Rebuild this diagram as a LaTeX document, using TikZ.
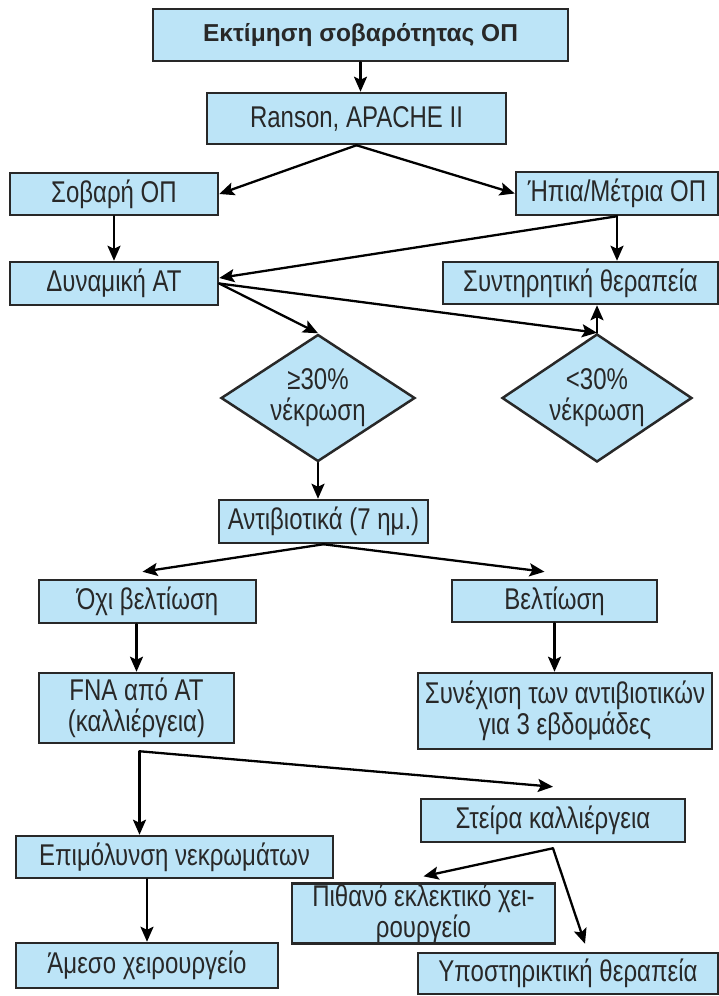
\documentclass[tikz,border=0pt]{standalone}
\usepackage{fontspec}
\setmainfont[FakeStretch=0.8]{Liberation Sans}
\newfontfamily\headfont{Liberation Sans}
\usetikzlibrary{shapes.geometric,arrows.meta,calc}
\definecolor{boxblue}{RGB}{188,228,247}
\definecolor{ink}{RGB}{40,40,40}

\begin{document}
\begin{tikzpicture}[x=1pt,y=-1pt,
  box/.style={draw=ink,fill=boxblue,line width=2.5pt,inner sep=0pt,align=center,text=ink,font=\fontsize{30}{31}\selectfont},
  dia/.style={box,shape=diamond},
  lbl/.style={align=center,text=ink,font=\fontsize{30}{31}\selectfont},
  arr/.style={-{Stealth[length=15pt,width=13pt,inset=3pt]},line width=2.3pt,line cap=round}]
  \useasboundingbox (0,0) rectangle (719,996);
  %top
  \node[box,minimum width=415,minimum height=52,font=\headfont\bfseries\fontsize{24.5}{28}\selectfont] (top) at (360.5,35) {Εκτίμηση σοβαρότητας ΟΠ};
  \node[box,minimum width=299,minimum height=51] (ranson) at (356.5,118.5) {Ranson, APACHE II};
  \node[box,minimum width=208,minimum height=42] (sov) at (114,194) {Σοβαρή ΟΠ};
  \node[box,minimum width=202,minimum height=43] (ipia) at (617,193.5) {Ήπια/Μέτρια ΟΠ};
  \node[box,minimum width=208,minimum height=43] (dyn) at (114,283.5) {Δυναμική ΑΤ};
  \node[box,minimum width=275,minimum height=42] (synt) at (580.5,283) {Συντηρητική θεραπεία};
  %necrosis
  \node[dia,minimum width=194,minimum height=127,label={[lbl]center:{≥30\%\\νέκρωση}}] (d1) at (318,398) {};
  \node[dia,minimum width=190,minimum height=128,label={[lbl]center:{<30\%\\νέκρωση}}] (d2) at (597,398) {};
  \node[box,minimum width=209,minimum height=43] (anti) at (323.5,521.5) {Αντιβιοτικά (7 ημ.)};
  %antibiotics
  \node[box,minimum width=217,minimum height=43] (ochi) at (147.5,601.5) {Όχι βελτίωση};
  \node[box,minimum width=205,minimum height=42] (velt) at (554.5,601) {Βελτίωση};
  \node[box,minimum width=195,minimum height=70] (fna) at (136.5,708) {FNA από ΑΤ\\(καλλιέργεια)};
  \node[box,minimum width=294,minimum height=76] (synex) at (565,711) {Συνέχιση των αντιβιοτικών\\για 3 εβδομάδες};
  %culture
  \node[box,minimum width=264,minimum height=43] (steira) at (553,820.5) {Στείρα καλλιέργεια};
  \node[box,minimum width=317,minimum height=42] (epim) at (174.5,857) {Επιμόλυνση νεκρωμάτων};
  \node[box,minimum width=263,minimum height=59] (pith) at (423.5,913.5) {Πιθανό εκλεκτικό χει-\\ρουργείο};
  \node[box,minimum width=262,minimum height=45] (ameso) at (147,965.5) {Άμεσο χειρουργείο};
  \node[box,minimum width=300,minimum height=41] (ypost) at (568,973.5) {Υποστηρικτική θεραπεία};

  \draw[arr] (top.south) -- (top.south |- ranson.north);
  \draw[arr] (ranson.south) -- (sov.east);
  \draw[arr] (ranson.south) -- (ipia.west);
  \draw[arr] (sov.south) -- (sov.south |- dyn.north);
  \draw[arr] (ipia.south) -- (dyn.3);
  \draw[arr] (ipia.south) -- (ipia.south |- synt.north);
  \draw[arr] (dyn.east) -- (d1.north);
  \draw[arr] (dyn.east) -- (d2.north);
  \draw[arr] (d2.north) -- (d2.north |- synt.south);
  \draw[arr] (d1.south) -- (d1.south |- anti.north);
  \draw[arr] (anti.south) -- ($(ochi.north)+(-5,-7)$);
  \draw[arr] (anti.south) -- ($(velt.north)+(-10,-7)$);
  \draw[arr] (fna.north |- ochi.south) -- (fna.north);
  \draw[arr] (velt.south) -- (velt.south |- synex.north);
  \coordinate (fork) at ($(fna.south)+(3,7)$);
  \draw[arr] (fork) -- (fork |- epim.north);
  \draw[arr] (fork) -- ($(steira.north)+(0,-11)$);
  \draw[arr] (ameso.north |- epim.south) -- (ameso.north);
  \coordinate (fork2) at ($(steira.south)+(0,5)$);
  \draw[arr] (fork2) -- ($(pith.north)+(0,-6)$);
  \draw[arr] (fork2) -- ($(ypost.north)+(17,-8)$);
\end{tikzpicture}
\end{document}
